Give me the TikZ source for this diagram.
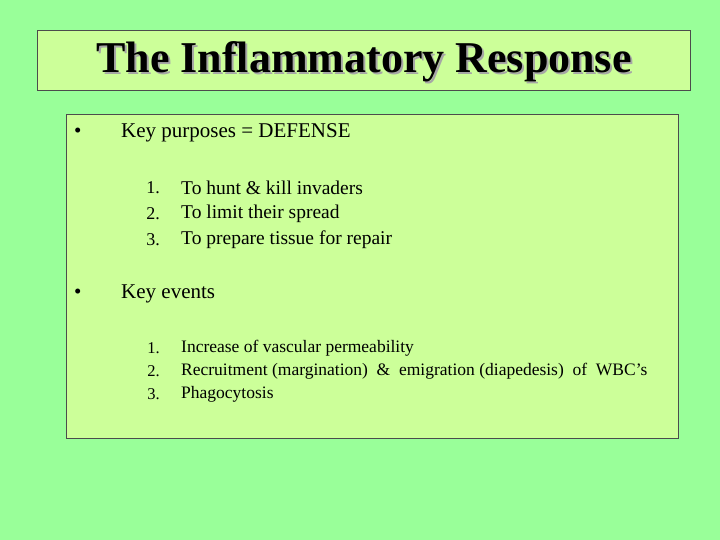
\documentclass[tikz,border=0pt]{standalone}
\usepackage{fontspec}
\setmainfont{Liberation Serif}
\definecolor{bg}{HTML}{99FF99}
\definecolor{boxc}{HTML}{CCFF99}
\begin{document}
\begin{tikzpicture}[x=1pt,y=-1pt,
  panel/.style={draw=black!70,fill=boxc,line width=0.8pt},
  txt/.style={anchor=west,inner sep=0pt,font=\fontsize{21}{24}\selectfont},
  bul/.style={anchor=west,inner sep=0pt,font=\fontsize{21}{24}\selectfont},
  itm/.style={anchor=west,inner sep=0pt,font=\fontsize{19.5}{22}\selectfont},
  num/.style={anchor=east,inner sep=0pt,font=\fontsize{18}{22}\selectfont},
  ev/.style={anchor=west,inner sep=0pt,font=\fontsize{17.5}{20}\selectfont},
  evn/.style={anchor=east,inner sep=0pt,font=\fontsize{16.5}{20}\selectfont}]
\fill[bg] (0,0) rectangle (720,540);
\useasboundingbox (0,0) rectangle (720,540);
\draw[panel] (37,30) rectangle (690,90);
\draw[panel] (66,114) rectangle (678,438);
\node[font=\fontsize{44}{48}\selectfont\bfseries,text=black!35] (tsh) at (366,64) {The Inflammatory Response};
\node[font=\fontsize{44}{48}\selectfont\bfseries] (title) at (364,62) {The Inflammatory Response};
\node[bul] (b1) at (74,133) {•};
\node[txt] (k1) at (121,133) {Key purposes = DEFENSE};
\node[num] (n1) at (160,188) {1.};
\node[num] (n2) at (160,214) {2.};
\node[num] (n3) at (160,240) {3.};
\node[itm] (i1) at (181,188) {To hunt \& kill invaders};
\node[itm] (i2) at (181,214) {To limit their spread};
\node[itm] (i3) at (181,240) {To prepare tissue for repair};
\node[bul] (b2) at (74,294) {•};
\node[txt] (k2) at (121,294) {Key events};
\node[evn] (m1) at (160,348) {1.};
\node[evn] (m2) at (160,371) {2.};
\node[evn] (m3) at (160,394) {3.};
\node[ev] (e1) at (181,348) {Increase of vascular permeability};
\node[ev] (e2) at (181,371) {Recruitment (margination) \ \& \ emigration (diapedesis) \ of \ WBC’s};
\node[ev] (e3) at (181,394) {Phagocytosis};
\end{tikzpicture}
\end{document}
